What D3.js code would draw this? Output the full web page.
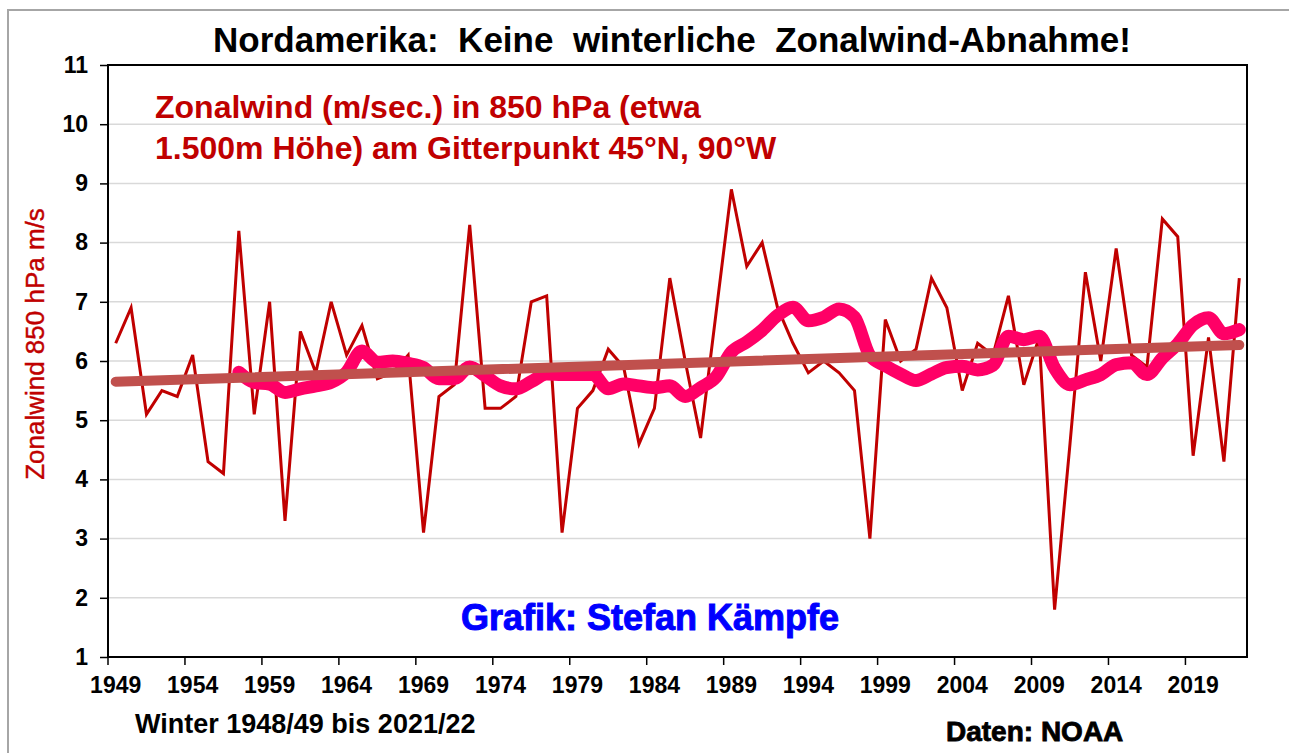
<!DOCTYPE html>
<html>
<head>
<meta charset="utf-8">
<script src="https://cdn.jsdelivr.net/npm/d3@7"></script>
<style>
body { margin: 0; background: #fff; }
text { font-family: "Liberation Sans", Arial, sans-serif; }
</style>
</head>
<body>
<script>
// Winter 1948/49 .. 2021/22, labelled by the year the winter ends
var years = [1949,1950,1951,1952,1953,1954,1955,1956,1957,1958,1959,1960,1961,1962,1963,1964,1965,1966,1967,1968,
	1969,1970,1971,1972,1973,1974,1975,1976,1977,1978,1979,1980,1981,1982,1983,1984,1985,1986,1987,1988,
	1989,1990,1991,1992,1993,1994,1995,1996,1997,1998,1999,2000,2001,2002,2003,2004,2005,2006,2007,2008,
	2009,2010,2011,2012,2013,2014,2015,2016,2017,2018,2019,2020,2021,2022];

// zonal wind, m/s
var zonalwind = [6.3,6.9,5.1,5.5,5.4,6.1,4.3,4.1,8.2,5.1,7.0,3.3,6.5,5.8,7.0,6.1,6.6,5.7,5.8,6.1,
	3.1,5.4,5.6,8.3,5.2,5.2,5.4,7.0,7.1,3.1,5.2,5.5,6.2,5.9,4.6,5.2,7.4,6.0,4.7,6.8,
	8.9,7.6,8.0,6.9,6.3,5.8,6.0,5.8,5.5,3.0,6.7,6.0,6.2,7.4,6.9,5.5,6.3,6.1,7.1,5.6,
	6.4,1.8,4.6,7.5,6.0,7.9,6.1,5.9,8.4,8.1,4.4,6.4,4.3,7.4];

// gleitendes Mittel (pink), from 1957 on
var smoothYears = [1957,1958,1959,1960,1961,1962,1963,1964,1965,1966,1967,1968,1969,1970,1971,1972,1973,1974,1975,1976,
	1977,1978,1979,1980,1981,1982,1983,1984,1985,1986,1987,1988,1989,1990,1991,1992,1993,1994,1995,1996,
	1997,1998,1999,2000,2001,2002,2003,2004,2005,2006,2007,2008,2009,2010,2011,2012,2013,2014,2015,2016,
	2017,2018,2019,2020,2021,2022];
var smooth = [5.81,5.64,5.61,5.47,5.53,5.58,5.64,5.81,6.17,5.98,6.0,5.96,5.89,5.7,5.7,5.9,5.75,5.58,5.53,5.65,
	5.78,5.77,5.77,5.77,5.53,5.61,5.58,5.55,5.58,5.4,5.55,5.73,6.15,6.32,6.52,6.77,6.91,6.68,6.74,6.88,
	6.74,6.09,5.92,5.78,5.67,5.78,5.89,5.91,5.85,5.93,6.42,6.36,6.42,5.88,5.6,5.68,5.77,5.94,5.97,5.77,
	6.05,6.29,6.61,6.73,6.46,6.53];

// linear trend, end points
var trendYears = [1949, 2022];
var trend = [5.65, 6.27];

var yTicks = [1,2,3,4,5,6,7,8,9,10,11];
var xLabelYears = [1949,1954,1959,1964,1969,1974,1979,1984,1989,1994,1999,2004,2009,2014,2019];

var svg = d3.select("body").append("svg")
	.attr("width", 1289)
	.attr("height", 753);

svg.append("rect").attr("width", 1289).attr("height", 753).attr("fill", "#fff");
// outer frame
svg.append("rect")
	.attr("x", 8).attr("y", 10).attr("width", 1320).attr("height", 800)
	.attr("fill", "none").attr("stroke", "#a6a6a6").attr("stroke-width", 2);

var pLeft = 108, pRight = 1247, pTop = 65, pBottom = 657;

var x = d3.scaleBand().domain(years).range([pLeft, pRight]);
var xc = function (yr) { return x(yr) + x.bandwidth() / 2; };
var y = d3.scaleLinear().domain([1, 11]).range([pBottom, pTop]);

// gridlines
svg.append("g").selectAll("line")
	.data(yTicks.slice(1))
	.enter().append("line")
	.attr("x1", pLeft).attr("x2", pRight)
	.attr("y1", d => y(d)).attr("y2", d => y(d))
	.attr("stroke", "#d9d9d9").attr("stroke-width", 1.5);

// y axis
var yAxis = svg.append("g")
	.attr("transform", "translate(" + pLeft + ",0)")
	.call(d3.axisLeft(y).tickValues(yTicks).tickSize(8).tickPadding(12).tickFormat(d3.format("d")));
yAxis.select(".domain").remove();
yAxis.selectAll("line").attr("stroke", "#000").attr("stroke-width", 1.5);
yAxis.selectAll("text").attr("font-size", 23).attr("font-weight", "bold").attr("fill", "#000");

// x axis: labels centred on the category, tick marks on category edges
var xAxis = svg.append("g")
	.attr("transform", "translate(0," + pBottom + ")")
	.call(d3.axisBottom(x).tickValues(xLabelYears).tickSize(0).tickPadding(20));
xAxis.select(".domain").remove();
xAxis.selectAll("text").attr("font-size", 23).attr("font-weight", "bold").attr("fill", "#000");

svg.append("g").selectAll("line")
	.data(xLabelYears)
	.enter().append("line")
	.attr("x1", d => x(d)).attr("x2", d => x(d))
	.attr("y1", pBottom).attr("y2", pBottom + 8)
	.attr("stroke", "#000").attr("stroke-width", 1.5);

var line = d3.line().x(d => xc(d[0])).y(d => y(d[1]));

// data series
svg.append("path")
	.attr("d", line(d3.zip(years, zonalwind)))
	.attr("fill", "none").attr("stroke", "#c00000").attr("stroke-width", 3)
	.attr("stroke-linejoin", "miter");

svg.append("path")
	.attr("d", d3.line().curve(d3.curveMonotoneX).x(d => xc(d[0])).y(d => y(d[1]))(d3.zip(smoothYears, smooth)))
	.attr("fill", "none").attr("stroke", "#ff0066").attr("stroke-width", 13)
	.attr("stroke-linejoin", "round").attr("stroke-linecap", "round");

svg.append("path")
	.attr("d", line(d3.zip(trendYears, trend)))
	.attr("fill", "none").attr("stroke", "#c0504d").attr("stroke-width", 10)
	.attr("stroke-linecap", "round");

// plot frame
svg.append("rect")
	.attr("x", pLeft).attr("y", pTop)
	.attr("width", pRight - pLeft).attr("height", pBottom - pTop)
	.attr("fill", "none").attr("stroke", "#000").attr("stroke-width", 2);

// texts
svg.append("text")
	.attr("x", 672).attr("y", 52)
	.attr("text-anchor", "middle")
	.attr("font-size", 35).attr("font-weight", "bold")
	.style("white-space", "pre")
	.text("Nordamerika:  Keine  winterliche  Zonalwind-Abnahme!");

svg.append("text")
	.attr("x", 155).attr("y", 118)
	.attr("font-size", 32).attr("font-weight", "bold").attr("fill", "#c00000")
	.text("Zonalwind (m/sec.) in 850 hPa (etwa");
svg.append("text")
	.attr("x", 155).attr("y", 159)
	.attr("font-size", 32).attr("font-weight", "bold").attr("fill", "#c00000")
	.text("1.500m Höhe) am Gitterpunkt 45°N, 90°W");

svg.append("text")
	.attr("x", 650).attr("y", 630)
	.attr("text-anchor", "middle")
	.attr("font-size", 36).attr("font-weight", "bold").attr("fill", "#0000ff")
	.attr("stroke", "#0000ff").attr("stroke-width", 1)
	.text("Grafik: Stefan Kämpfe");

svg.append("text")
	.attr("transform", "translate(44,344) rotate(-90)")
	.attr("text-anchor", "middle")
	.attr("font-size", 26).attr("fill", "#c00000")
	.attr("stroke", "#c00000").attr("stroke-width", 0.4)
	.text("Zonalwind 850 hPa m/s");

svg.append("text")
	.attr("x", 135).attr("y", 733)
	.attr("font-size", 27).attr("font-weight", "bold")
	.text("Winter 1948/49 bis 2021/22");

svg.append("text")
	.attr("x", 946).attr("y", 741)
	.attr("font-size", 28).attr("font-weight", "bold")
	.attr("stroke", "#000").attr("stroke-width", 0.8)
	.text("Daten: NOAA");
</script>
</body>
</html>
